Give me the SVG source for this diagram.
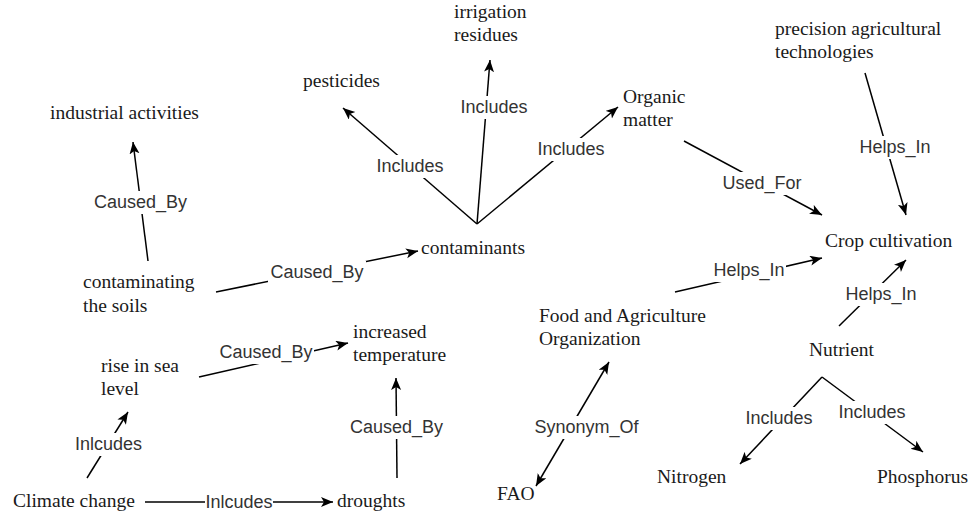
<svg xmlns="http://www.w3.org/2000/svg" width="973" height="514" viewBox="0 0 973 514">
<style>
.n{font-family:"Liberation Serif","Times New Roman",serif;font-size:19.5px;fill:#1a1a1a}
.l{font-family:"Liberation Sans",Arial,sans-serif;font-size:18px;fill:#333;text-anchor:middle}
.e{stroke:#000;stroke-width:1.5;fill:none;marker-end:url(#a)}
.bg{fill:#fff}
</style>
<defs>
<marker id="a" markerUnits="userSpaceOnUse" markerWidth="13" markerHeight="11" refX="12" refY="5" orient="auto-start-reverse">
<path d="M0,0 L12,5 L0,10 L3,5 z" fill="#000"/>
</marker>
</defs>
<rect width="973" height="514" fill="#fff"/>
<g id="connectors">
<line class="e" x1="148" y1="261" x2="133" y2="142"/>
<line class="e" x1="477" y1="224" x2="343" y2="108"/>
<line class="e" x1="477" y1="224" x2="490" y2="60"/>
<line class="e" x1="477" y1="224" x2="618" y2="107"/>
<line class="e" x1="216" y1="292" x2="418" y2="251"/>
<line class="e" x1="684" y1="141" x2="822" y2="215"/>
<line class="e" x1="865" y1="73" x2="906" y2="215"/>
<line class="e" x1="675" y1="292" x2="822" y2="258"/>
<line class="e" x1="839" y1="326" x2="906" y2="260"/>
<line class="e" x1="536" y1="486" x2="609" y2="362" marker-start="url(#a)"/>
<line class="e" x1="822" y1="377" x2="740" y2="464"/>
<line class="e" x1="822" y1="377" x2="923" y2="452"/>
<line class="e" x1="199" y1="377" x2="348" y2="343"/>
<line class="e" x1="397" y1="478" x2="396" y2="378"/>
<line class="e" x1="87" y1="478" x2="128" y2="412"/>
<line class="e" x1="145" y1="502" x2="333" y2="502"/>
<g id="labels">
<rect class="bg" x="92" y="191" width="97" height="23"/><text class="l" x="140.5" y="208">Caused_By</text>
<rect class="bg" x="375" y="155" width="70" height="23"/><text class="l" x="410" y="172">Includes</text>
<rect class="bg" x="459" y="96" width="70" height="23"/><text class="l" x="494" y="113">Includes</text>
<rect class="bg" x="536" y="138" width="70" height="23"/><text class="l" x="571" y="155">Includes</text>
<rect class="bg" x="268" y="261" width="98" height="23"/><text class="l" x="317" y="278">Caused_By</text>
<rect class="bg" x="721" y="172" width="82" height="23"/><text class="l" x="762" y="189">Used_For</text>
<rect class="bg" x="858" y="136" width="74" height="23"/><text class="l" x="895" y="153">Helps_In</text>
<rect class="bg" x="712" y="259" width="74" height="23"/><text class="l" x="749" y="276">Helps_In</text>
<rect class="bg" x="844" y="283" width="74" height="23"/><text class="l" x="881" y="300">Helps_In</text>
<rect class="bg" x="533" y="416" width="107" height="23"/><text class="l" x="586.5" y="433">Synonym_Of</text>
<rect class="bg" x="745" y="407" width="69" height="23"/><text class="l" x="779" y="424">Includes</text>
<rect class="bg" x="838" y="401" width="69" height="23"/><text class="l" x="872" y="418">Includes</text>
<rect class="bg" x="218" y="341" width="96" height="23"/><text class="l" x="266" y="358">Caused_By</text>
<rect class="bg" x="348" y="416" width="97" height="23"/><text class="l" x="396.5" y="433">Caused_By</text>
<rect class="bg" x="74" y="433" width="69" height="23"/><text class="l" x="108.5" y="450">Inlcudes</text>
<rect class="bg" x="205" y="491" width="68" height="23"/><text class="l" x="239" y="508">Inlcudes</text>
</g>
</g>
<g id="industrial-activities"><text class="n" x="50" y="119">industrial activities</text></g>
<g id="pesticides"><text class="n" x="303" y="87">pesticides</text></g>
<g id="irrigation-residues"><text class="n" x="454" y="18">irrigation</text><text class="n" x="454" y="41">residues</text></g>
<g id="organic-matter"><text class="n" x="623" y="103">Organic</text><text class="n" x="623" y="126">matter</text></g>
<g id="precision"><text class="n" x="775" y="35">precision agricultural</text><text class="n" x="775" y="58">technologies</text></g>
<g id="crop-cultivation"><text class="n" x="825" y="247">Crop cultivation</text></g>
<g id="contaminants"><text class="n" x="421" y="254">contaminants</text></g>
<g id="contaminating-soils"><text class="n" x="83" y="288">contaminating</text><text class="n" x="83" y="312">the soils</text></g>
<g id="increased-temperature"><text class="n" x="353" y="338">increased</text><text class="n" x="353" y="361">temperature</text></g>
<g id="rise-sea-level"><text class="n" x="101" y="372">rise in sea</text><text class="n" x="101" y="395">level</text></g>
<g id="fao-org"><text class="n" x="539" y="322">Food and Agriculture</text><text class="n" x="539" y="345">Organization</text></g>
<g id="nutrient"><text class="n" x="809" y="356">Nutrient</text></g>
<g id="climate-change"><text class="n" x="13" y="507">Climate change</text></g>
<g id="droughts"><text class="n" x="337" y="507">droughts</text></g>
<g id="fao"><text class="n" x="497" y="500">FAO</text></g>
<g id="nitrogen"><text class="n" x="657" y="483">Nitrogen</text></g>
<g id="phosphorus"><text class="n" x="877" y="483">Phosphorus</text></g>
</svg>
